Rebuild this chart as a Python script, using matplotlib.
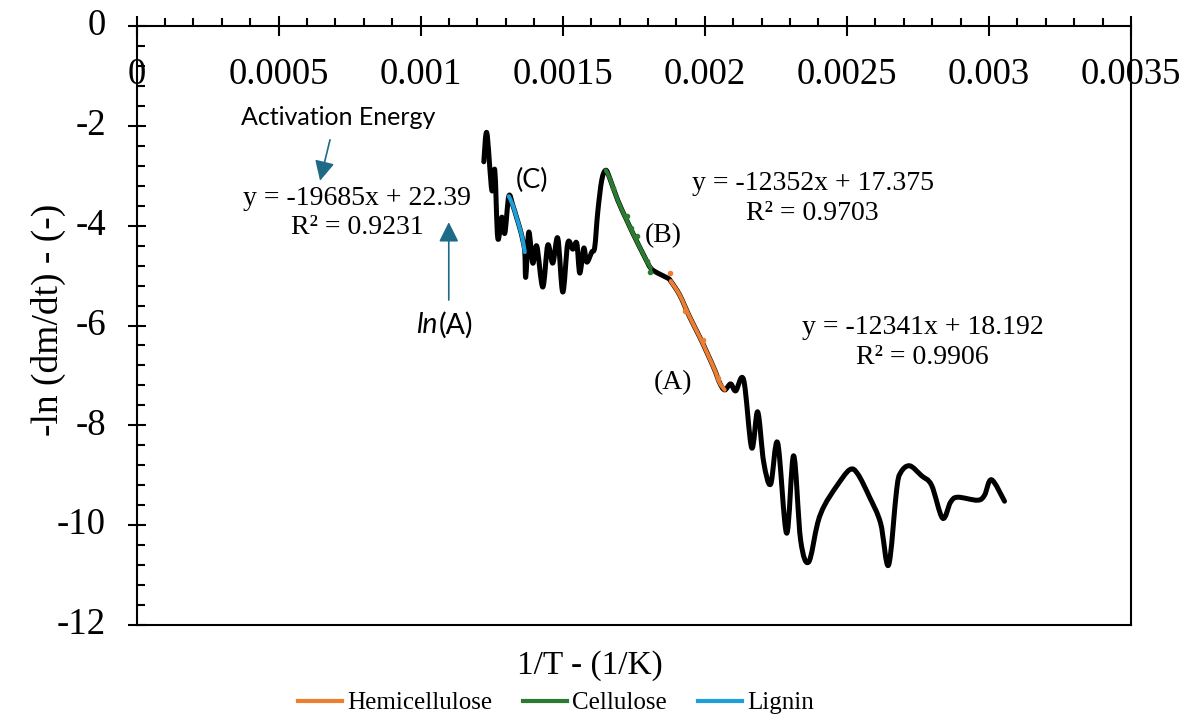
import matplotlib
matplotlib.use("Agg")
import matplotlib.pyplot as plt
from matplotlib.ticker import MultipleLocator
from matplotlib.path import Path
from matplotlib.patches import PathPatch
from matplotlib.lines import Line2D

# ---------------- data ----------------
black_x = [0.0012223, 0.0012329, 0.0012505, 0.0012610, 0.0012715, 0.0012856, 0.0012962,
           0.0013102, 0.0013243, 0.0013384, 0.0013489, 0.0013595, 0.0013665, 0.0013700,
           0.0013806, 0.0013946, 0.0014087, 0.0014298, 0.0014474, 0.0014650, 0.0014826,
           0.0015002, 0.0015178, 0.0015354, 0.0015494, 0.0015600, 0.0015741, 0.0015846,
           0.0016022, 0.0016127, 0.0016233, 0.0016373, 0.0016514, 0.0016655, 0.0016936,
           0.0017253, 0.0017534, 0.0017886, 0.0018097, 0.0018343, 0.0018695, 0.0018800,
           0.0019117, 0.0019469, 0.0019821, 0.0020067, 0.0020348, 0.0020524, 0.0020700,
           0.0020911, 0.0021087, 0.0021368, 0.0021650, 0.0021861, 0.0022071, 0.0022317,
           0.0022564, 0.0022880, 0.0023127, 0.0023373, 0.0023654, 0.0023971, 0.0024217,
           0.0024639, 0.0025097, 0.0025378, 0.0025800, 0.0026187, 0.0026468, 0.0026750,
           0.0026891, 0.0027207, 0.0027629, 0.0027981, 0.0028368, 0.0028649, 0.0028896,
           0.0029599, 0.0029845, 0.0030091, 0.0030549]
black_y = [-2.72, -2.14, -3.29, -2.89, -4.25, -3.83, -4.15,
           -3.41, -3.59, -3.85, -4.05, -4.29, -4.53, -5.03,
           -4.13, -4.75, -4.41, -5.23, -4.39, -4.75, -4.25,
           -5.33, -4.35, -4.47, -4.35, -4.95, -4.45, -4.73,
           -4.53, -4.43, -3.73, -3.09, -2.89, -3.05, -3.49,
           -3.89, -4.23, -4.63, -4.85, -4.95, -5.05, -5.11,
           -5.39, -5.83, -6.23, -6.53, -6.89, -7.15, -7.29,
           -7.17, -7.31, -7.09, -8.45, -7.73, -8.73, -9.18,
           -8.35, -10.16, -8.61, -10.30, -10.74, -9.96, -9.60,
           -9.22, -8.89, -8.97, -9.44, -9.96, -10.80, -9.30,
           -8.95, -8.81, -9.01, -9.20, -9.86, -9.54, -9.44,
           -9.50, -9.40, -9.09, -9.52]

hemi_x = [0.0018800, 0.0019117, 0.0019469, 0.0019821, 0.0020067, 0.0020348, 0.0020524, 0.0020700]
hemi_y = [-5.11, -5.39, -5.83, -6.23, -6.53, -6.89, -7.15, -7.29]
hemi_dot_x = [0.0018790, 0.0019300, 0.0019950, 0.0020450]
hemi_dot_y = [-4.95, -5.70, -6.30, -7.05]

cell_x = [0.0016514, 0.0016655, 0.0016936, 0.0017253, 0.0017534, 0.0017886, 0.0018097]
cell_y = [-2.89, -3.05, -3.49, -3.89, -4.23, -4.63, -4.85]
cell_dot_x = [0.0016760, 0.0017250, 0.0017400, 0.0017600, 0.0017950, 0.0018062]
cell_dot_y = [-3.25, -3.80, -4.05, -4.20, -4.70, -4.93]

lig_x = [0.0013102, 0.0013243, 0.0013384, 0.0013489, 0.0013595, 0.0013665]
lig_y = [-3.41, -3.59, -3.85, -4.05, -4.29, -4.53]

x_ticks = [0, 0.0005, 0.001, 0.0015, 0.002, 0.0025, 0.003, 0.0035]
x_tick_labels = ["0", "0.0005", "0.001", "0.0015", "0.002", "0.0025", "0.003", "0.0035"]
y_ticks = [0, -2, -4, -6, -8, -10, -12]
y_tick_labels = ["0", "-2", "-4", "-6", "-8", "-10", "-12"]

series_names = ["Hemicellulose", "Cellulose", "Lignin"]
C_HEMI = "#ED7D31"
C_CELL = "#2A7B30"
C_LIG = "#1F9FDA"
C_ARROW = "#1E6A87"

SERIF = "Liberation Serif"
SANS = "Lato"


def smooth_path(xs, ys):
    """Smoothed (Catmull-Rom style) rendering path through the given points."""
    n = len(xs)
    verts = [(xs[0], ys[0])]
    codes = [Path.MOVETO]
    for i in range(n - 1):
        x0, y0 = (xs[i - 1], ys[i - 1]) if i > 0 else (xs[i], ys[i])
        x1, y1 = xs[i], ys[i]
        x2, y2 = xs[i + 1], ys[i + 1]
        x3, y3 = (xs[i + 2], ys[i + 2]) if i + 2 < n else (x2, y2)
        k = 1 / 6
        verts += [(x1 + (x2 - x0) * k, y1 + (y2 - y0) * k),
                  (x2 - (x3 - x1) * k, y2 - (y3 - y1) * k),
                  (x2, y2)]
        codes += [Path.CURVE4] * 3
    return Path(verts, codes)


W, H = 1195, 726
fig = plt.figure(figsize=(W / 100, H / 100), dpi=100)
L, R, T, B = 136.5, 1131, 26, 625
ax = fig.add_axes([L / W, 1 - B / H, (R - L) / W, (B - T) / H])

ax.add_patch(PathPatch(smooth_path(black_x, black_y), fill=False, edgecolor="black", lw=3.6,
                       capstyle="round", joinstyle="round", zorder=2))
for xs, ys, c in [(hemi_x, hemi_y, C_HEMI), (cell_x, cell_y, C_CELL), (lig_x, lig_y, C_LIG)]:
    ax.add_patch(PathPatch(smooth_path(xs, ys), fill=False, edgecolor=c, lw=2.9,
                           capstyle="round", zorder=3))
ax.plot(hemi_dot_x, hemi_dot_y, ls="none", marker="o", ms=3, color=C_HEMI, zorder=3)
ax.plot(cell_dot_x, cell_dot_y, ls="none", marker="o", ms=3, color=C_CELL, zorder=3)

ax.set_xlim(0, 0.0035)
ax.set_ylim(-12, 0)
for s in ax.spines.values():
    s.set_linewidth(1.5)
    s.set_color("black")

ax.set_xticks(x_ticks)
ax.xaxis.set_minor_locator(MultipleLocator(0.0001))
ax.set_yticks(y_ticks)
ax.yaxis.set_minor_locator(MultipleLocator(0.4))
ax.tick_params(axis="x", which="major", direction="inout", length=14, width=1.5,
               top=True, bottom=False, labeltop=False, labelbottom=False)
ax.tick_params(axis="x", which="minor", direction="out", length=6, width=1.5,
               top=True, bottom=False)
ax.tick_params(axis="y", which="major", direction="inout", length=13, width=1.5,
               left=True, right=False, labelleft=False)
ax.tick_params(axis="y", which="minor", direction="in", length=6, width=1.5,
               left=True, right=False)

xt_y = 1 - (75 - T) / (B - T)
for v, lab in zip(x_ticks, x_tick_labels):
    ax.text(v, xt_y, lab, transform=ax.get_xaxis_transform(), ha="center", va="center",
            fontsize=26.5, family=SERIF)
yt_x = -(L - 106) / (R - L)
for v, lab in zip(y_ticks, y_tick_labels):
    ax.text(yt_x, v, lab, transform=ax.get_yaxis_transform(), ha="right", va="center",
            fontsize=26.5, family=SERIF)

fig.text(590 / W, 1 - 666 / H, "1/T - (1/K)", ha="center", va="center", fontsize=24, family=SERIF)
fig.text(48 / W, 1 - 320 / H, "-ln (dm/dt) - (-)", ha="center", va="center", rotation=90,
         fontsize=27, family=SERIF)

# annotations
ax.text(0.0007777, -3.45, "y = -19685x + 22.39", ha="center", va="center", fontsize=20, family=SERIF)
ax.text(0.0007777, -4.03, "R² = 0.9231", ha="center", va="center", fontsize=20, family=SERIF)
ax.text(0.0023797, -3.15, "y = -12352x + 17.375", ha="center", va="center", fontsize=20, family=SERIF)
ax.text(0.0023797, -3.75, "R² = 0.9703", ha="center", va="center", fontsize=20, family=SERIF)
ax.text(0.0027666, -6.05, "y = -12341x + 18.192", ha="center", va="center", fontsize=20, family=SERIF)
ax.text(0.0027666, -6.65, "R² = 0.9906", ha="center", va="center", fontsize=20, family=SERIF)
ax.text(0.0018527, -4.19, "(B)", ha="center", va="center", fontsize=20, family=SERIF)
ax.text(0.0018871, -7.15, "(A)", ha="center", va="center", fontsize=20, family=SERIF)
ax.text(0.0013911, -3.10, "(C)", ha="center", va="center", fontsize=19.5, family=SANS)
ax.text(0.000709, -1.84, "Activation Energy", ha="center", va="center", fontsize=18, family=SANS)
ax.text(0.001059, -5.99, "ln", ha="right", va="center", fontsize=20.5, family=SANS, style="italic")
ax.text(0.001063, -5.99, "(A)", ha="left", va="center", fontsize=20.5, family=SANS)

ax.annotate("", xy=(0.000646, -3.10), xytext=(0.000681, -2.28),
            arrowprops=dict(arrowstyle="-|>", color=C_ARROW, lw=1.2, mutation_scale=30,
                            shrinkA=0, shrinkB=0))
ax.annotate("", xy=(0.0010990, -3.93), xytext=(0.0010990, -5.49),
            arrowprops=dict(arrowstyle="-|>", color=C_ARROW, lw=1.2, mutation_scale=30,
                            shrinkA=0, shrinkB=0))

handles = [Line2D([], [], color=c, lw=3) for c in (C_HEMI, C_CELL, C_LIG)]
fig.legend(handles=handles, labels=series_names, loc="center", ncol=3,
           bbox_to_anchor=(556 / W, 1 - 703 / H), frameon=False,
           prop={"family": SERIF, "size": 18}, handlelength=1.75, handletextpad=0.2,
           columnspacing=1.25, borderpad=0, borderaxespad=0)

fig.savefig("out.png", dpi=100)
